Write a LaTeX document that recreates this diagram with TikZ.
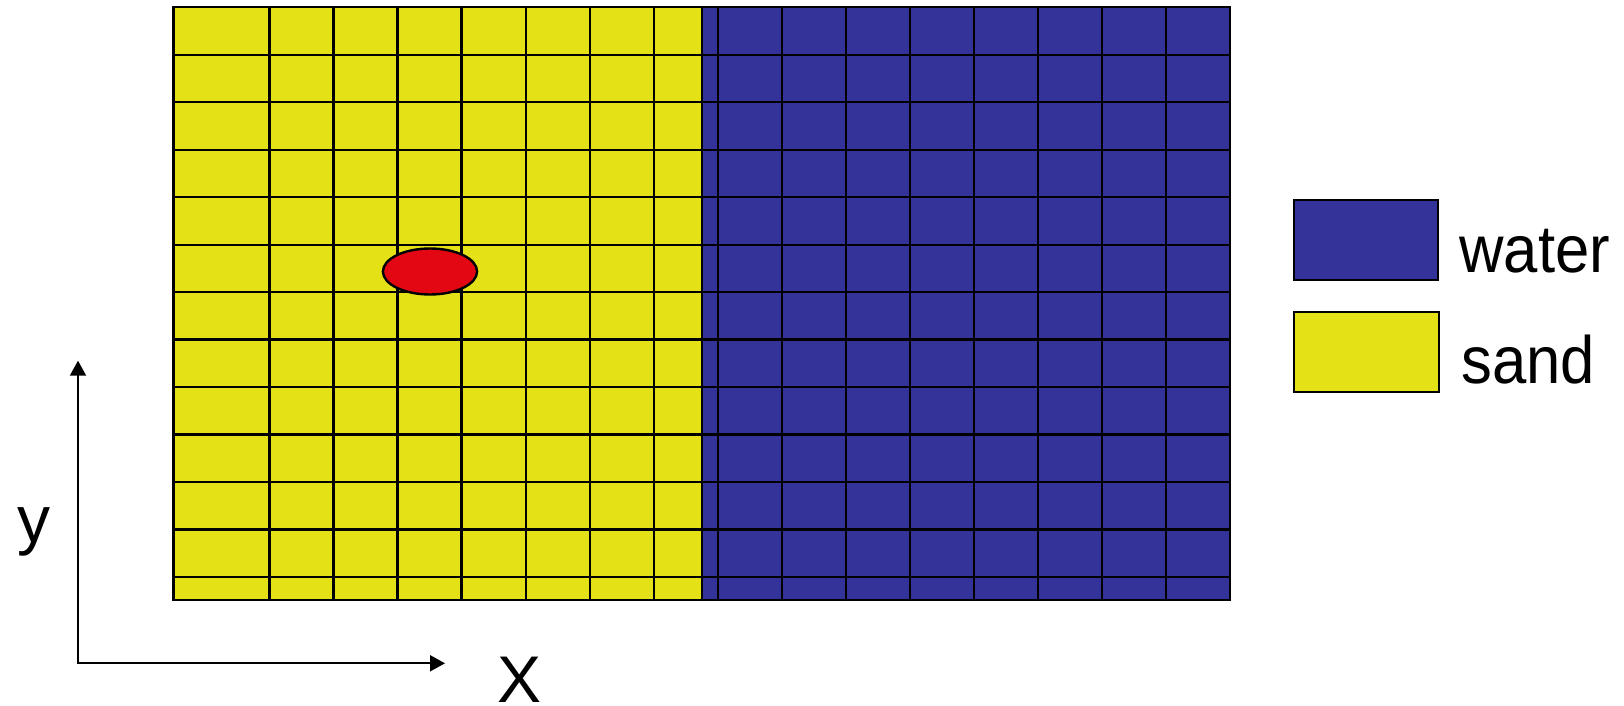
\documentclass[tikz,border=0pt]{standalone}
\usepackage{fontspec}
\setmainfont{Liberation Sans}
\newfontfamily\legendfont[FakeStretch = 0.92]{Liberation Sans}
\usetikzlibrary{arrows.meta, shapes.geometric}
\definecolor{sandyellow}{RGB}{228,226,22}
\definecolor{waterblue}{RGB}{51,51,153}
\definecolor{blobred}{RGB}{227,6,19}
\tikzset{gridline/.style = {draw = black, line width = 1.1pt}}
\tikzset{legbox/.style = {shape = rectangle, draw, line width = 1pt, minimum width = 72.2pt, minimum height = 39.9pt, inner sep = 0pt}}
\tikzset{label/.style = {anchor = base west, inner sep = 0pt, font = \fontsize{33}{36}\selectfont}}
\tikzset{legtext/.style = {label, font = \legendfont\fontsize{33.5}{36}\selectfont}}
\tikzset{blob/.style = {shape = ellipse, draw, fill = blobred, line width = 1.2pt, minimum width = 47.1pt, minimum height = 23pt, inner sep = 0pt}}
\tikzset{axis/.style = {line width = 1pt, {Triangle[length = 7.5pt, width = 8pt]}-{Triangle[length = 7.5pt, width = 8pt]}}}

\begin{document}
\begin{tikzpicture}[x = 0.5pt, y = -0.5pt]
	\useasboundingbox (0, 0) rectangle (1624, 706);

	% sand and water regions
	\fill[sandyellow] (173.5, 7.25) rectangle (702, 599.7);
	\fill[waterblue] (702, 7.25) rectangle (1230, 599.7);

	% grid
	\foreach \k in {0, ..., 12}
		\draw[gridline] (173.5, {7.25 + 47.47*\k}) -- (1230, {7.25 + 47.47*\k});
	\foreach \k in {0, ..., 15}
		\draw[gridline] ({269.5 + 64.03*\k}, 7.25) -- ({269.5 + 64.03*\k}, 599.7);
	\draw[gridline] (702, 7.25) -- (702, 599.7);
	\draw[gridline, line cap = rect] (173.5, 7.25) rectangle (1230, 599.7);

	% inclusion
	\node[blob] (inclusion) at (430, 271.5) {};

	% axes
	\coordinate (origin) at (78, 663.3);
	\coordinate (ytip) at (78, 360.7);
	\coordinate (xtip) at (445, 663.3);
	\draw[axis] (ytip) -- (origin) -- (xtip);
	\node[label] (ylabel) at (17, 542) {y};
	\node[label] (xlabel) at (497, 702) {X};

	% legend
	\node[legbox, fill = waterblue] (waterkey) at (1366, 240) {};
	\node[legbox, fill = sandyellow] (sandkey) at (1366.6, 352) {};
	\node[legtext] (watertext) at (1459, 272.7) {water};
	\node[legtext] (sandtext) at (1461, 383) {sand};
\end{tikzpicture}
\end{document}
